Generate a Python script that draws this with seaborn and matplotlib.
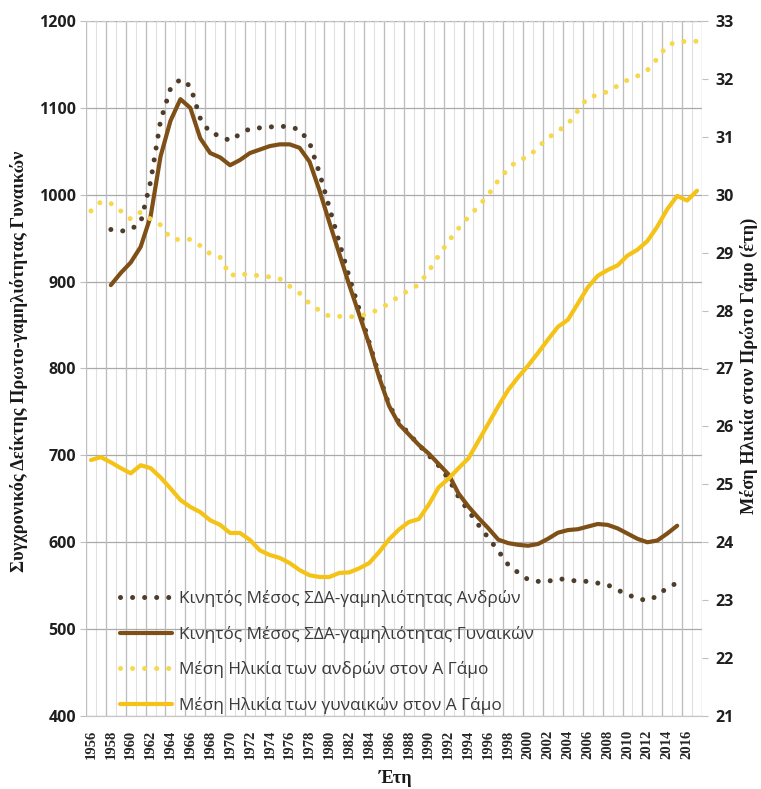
import numpy as np
import matplotlib
matplotlib.use("Agg")
import matplotlib.pyplot as plt
import seaborn as sns

nan = np.nan
years = list(range(1956, 2018))

male_ma = [nan, nan, 960, 958, 960, 968, 1015, 1085, 1122, 1133, 1125, 1088, 1071, 1068,
           1062, 1070, 1076, 1077, 1078, 1079, 1078, 1075, 1060, 1025, 985, 945, 905, 868,
           830, 792, 758, 738, 725, 712, 700, 688, 673, 652, 636, 620, 605, 590, 574, 565,
           557, 555, 555, 558, 557, 555, 555, 553, 551, 545, 540, 535, 533, 538, 548, 553,
           nan, nan]

female_ma = [nan, nan, 896, 910, 922, 940, 975, 1044, 1085, 1110, 1100, 1065, 1048, 1043,
             1034, 1040, 1048, 1052, 1056, 1058, 1058, 1054, 1038, 1005, 968, 932, 896, 862,
             828, 790, 757, 736, 724, 712, 702, 690, 678, 656, 641, 628, 616, 603, 599, 597,
             596, 598, 604, 611, 614, 615, 618, 621, 620, 616, 610, 604, 600, 602, 610, 619,
             nan, nan]

male_age = [29.72, 29.88, 29.85, 29.72, 29.58, 29.70, 29.58, 29.48, 29.25, 29.22, 29.23, 29.12,
            28.98, 28.92, 28.60, 28.65, 28.60, 28.61, 28.58, 28.55, 28.42, 28.30, 28.12, 28.00,
            27.90, 27.90, 27.89, 27.91, 27.94, 28.03, 28.12, 28.25, 28.35, 28.45, 28.68, 28.95,
            29.20, 29.42, 29.62, 29.80, 30.00, 30.25, 30.45, 30.60, 30.65, 30.82, 30.98, 31.10,
            31.22, 31.45, 31.68, 31.72, 31.78, 31.88, 31.98, 32.05, 32.15, 32.35, 32.58, 32.64,
            32.65, 32.65]

female_age = [25.42, 25.47, 25.38, 25.28, 25.19, 25.33, 25.28, 25.12, 24.93, 24.73, 24.61, 24.52,
              24.38, 24.30, 24.16, 24.16, 24.04, 23.86, 23.78, 23.73, 23.64, 23.52, 23.43, 23.40,
              23.40, 23.47, 23.48, 23.55, 23.64, 23.83, 24.05, 24.22, 24.35, 24.40, 24.65, 24.95,
              25.10, 25.28, 25.45, 25.75, 26.05, 26.35, 26.63, 26.85, 27.05, 27.27, 27.50, 27.72,
              27.84, 28.12, 28.40, 28.60, 28.70, 28.78, 28.95, 29.05, 29.20, 29.45, 29.75, 29.98,
              29.90, 30.07]

labels = ["Κινητός Μέσος ΣΔΑ-γαμηλιότητας Ανδρών",
          "Κινητός Μέσος ΣΔΑ-γαμηλιότητας Γυναικών",
          "Μέση Ηλικία των ανδρών στον Α Γάμο",
          "Μέση Ηλικία των γυναικών στον Α Γάμο"]
left_ticks = list(range(400, 1201, 100))
right_ticks = list(range(21, 34))
xtick_years = years[::2]

c_male_ma = "#4f3d2c"
c_female_ma = "#7e4f16"
c_male_age = "#f6d84a"
c_female_age = "#f5c216"

sns.set_theme(style="white")
plt.rcParams['font.family'] = ['Open Sans', 'DejaVu Sans']

W, H = 761, 789
fig = plt.figure(figsize=(W / 100, H / 100), dpi=100)
L, R, T, B = 86, 702, 21, 716
ax = fig.add_axes([L / W, 1 - B / H, (R - L) / W, (B - T) / H])
ax2 = ax.twinx()

dot = (0, (0.01, 2.4))
sns.lineplot(x=years, y=male_ma, ax=ax, color=c_male_ma, lw=3.6, linestyle=dot,
             dash_capstyle='round', label=labels[0], legend=False)
sns.lineplot(x=years, y=female_ma, ax=ax, color=c_female_ma, lw=3.0,
             solid_capstyle='round', label=labels[1], legend=False)
sns.lineplot(x=years, y=male_age, ax=ax2, color=c_male_age, lw=3.6, linestyle=dot,
             dash_capstyle='round', label=labels[2], legend=False)
sns.lineplot(x=years, y=female_age, ax=ax2, color=c_female_age, lw=3.0,
             solid_capstyle='round', label=labels[3], legend=False)

ax.set_xlim(years[0] - 0.5, years[-1] + 0.5)
ax.set_ylim(left_ticks[0], left_ticks[-1])
ax2.set_ylim(right_ticks[0], right_ticks[-1])

# grid
ax.set_yticks(left_ticks)
ax.grid(axis='y', which='major', color='#a9a9a9', lw=0.9)
ax.set_xticks(np.arange(years[0] - 0.5, years[-1] + 1, 1), minor=True)
ax.grid(axis='x', which='minor', color='#e0e0e0', lw=0.8)
ax.vlines(np.arange(years[0] - 0.5, years[-1] + 1, 2), left_ticks[0], left_ticks[-1],
          color='#bdbdbd', lw=0.9, zorder=0.8)
ax.set_axisbelow(True)

ax.set_xticks(xtick_years)
ax.set_xticklabels([str(y) for y in xtick_years], rotation=90,
                   fontfamily='Liberation Serif', fontweight='bold', fontsize=10.5)
ax.tick_params(axis='x', which='both', length=0, pad=10)
ax.tick_params(axis='y', length=4, color='#bfbfbf', width=0.8, labelsize=11.5, pad=3,
               labelcolor='#1f1f1f')
for t in ax.get_yticklabels():
    t.set_fontweight('bold')
ax2.set_yticks(right_ticks)
ax2.tick_params(axis='y', length=4, color='#bfbfbf', width=0.8, labelsize=11.5, pad=6,
                labelcolor='#1f1f1f')
for t in ax2.get_yticklabels():
    t.set_fontweight('bold')

for a in (ax, ax2):
    for s in a.spines.values():
        s.set_color('#c8c8c8')
        s.set_linewidth(0.8)
    a.spines['top'].set_linestyle((0, (4, 3)))
    a.spines['left'].set_visible(False)
    a.spines['right'].set_visible(False)

lab_font = dict(family='Liberation Serif', weight='bold', size=13.2, color='#1a1a1a')
ax.set_ylabel("Συγχρονικός Δείκτης Πρωτο-γαμηλιότητας Γυναικών", **lab_font)
ax.yaxis.set_label_coords((28 - L) / (R - L), 0.511)
ax2.set_ylabel("Μέση Ηλικία στον Πρώτο Γάμο (έτη)", rotation=90, **lab_font)
ax2.yaxis.set_label_coords((740 - L) / (R - L), 0.504)
ax.set_xlabel("Έτη", **lab_font)
ax.xaxis.set_label_coords((396 - L) / (R - L), (B - 770) / (B - T))

handles = ax.get_lines()[:2] + ax2.get_lines()[:2]
leg = ax2.legend(handles, labels, loc='center left',
                 bbox_to_anchor=(120 / W, 1 - 652 / H), bbox_transform=fig.transFigure,
                 frameon=False, borderaxespad=0, borderpad=0, handlelength=3.0,
                 handletextpad=0.4, labelspacing=1.08,
                 prop={'family': 'Open Sans', 'size': 12.4})
for t in leg.get_texts():
    t.set_color('#3a3a3a')

fig.savefig("out.png", dpi=100)
